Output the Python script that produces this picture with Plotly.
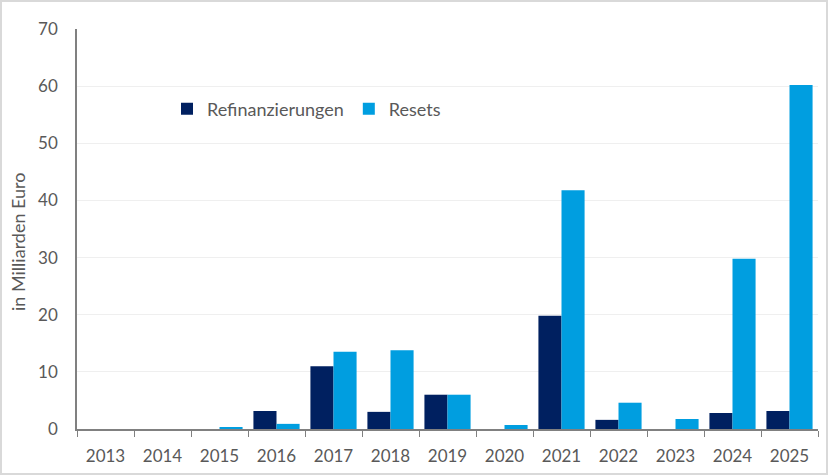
import plotly.graph_objects as go

years = [str(y) for y in range(2013, 2026)]
refinanzierungen = [0, 0, 0, 3.15, 11.0, 3.0, 6.0, 0, 19.8, 1.6, 0, 2.8, 3.15]
resets = [0, 0, 0.2, 0.9, 13.5, 13.8, 6.0, 0.7, 41.8, 4.6, 1.75, 29.8, 60.2]
y_title = "in Milliarden Euro"

FONT = "Lato, 'Liberation Sans', sans-serif"
TXT = "#595959"

fig = go.Figure()
fig.add_trace(go.Bar(x=years, y=refinanzierungen, name="Refinanzierungen",
                     marker=dict(color="#002060", line=dict(width=0))))
fig.add_trace(go.Bar(x=years, y=resets, name="Resets",
                     marker=dict(color="#009EE0", line=dict(width=0))))

W, H = 828, 475
L, R, T, B = 77, 10, 29, 46
pw = W - L - R
ph = H - T - B
fig.update_layout(
    width=W, height=H,
    margin=dict(l=L, r=R, t=T, b=B),
    paper_bgcolor="white", plot_bgcolor="white",
    barmode="group", bargap=0.19, bargroupgap=0,
    font=dict(family=FONT, size=17, color=TXT),
    showlegend=True,
    legend=dict(orientation="h", x=(167 - L) / pw, y=(H - 109 - B) / ph,
                xanchor="left", yanchor="middle",
                font=dict(size=18, color=TXT), bgcolor="rgba(0,0,0,0)",
                itemwidth=30, traceorder="normal"),
    xaxis=dict(type="category", showline=True, linecolor="#808080", linewidth=1.5,
               ticks="outside", tickson="boundaries", ticklen=6, tickcolor="#808080",
               tickfont=dict(size=17, color=TXT), showgrid=False,
               ticklabelstandoff=11),
    yaxis=dict(range=[0, 70], dtick=10, showline=True, linecolor="#808080", linewidth=1.5,
               gridcolor="#EFEFEF", gridwidth=1, ticks="", zeroline=False,
               tickfont=dict(size=17, color=TXT), ticklabelstandoff=14),
)

fig.add_annotation(text=y_title, textangle=-90, xref="paper", yref="paper",
                   x=(18 - L) / pw, y=(H - 242 - B) / ph, xanchor="center", yanchor="middle",
                   showarrow=False, font=dict(size=18, color=TXT))

# light grey frame around the whole figure
fig.add_shape(type="rect", xref="paper", yref="paper",
              x0=(1 - L) / pw, x1=(W - 1 - L) / pw,
              y0=(1 - B) / ph, y1=(H - 1 - B) / ph,
              line=dict(color="#D9D9D9", width=2), fillcolor="rgba(0,0,0,0)", layer="above")

fig.write_html("out.html", config={"displayModeBar": False},
               post_script="document.body.style.margin='0';")
